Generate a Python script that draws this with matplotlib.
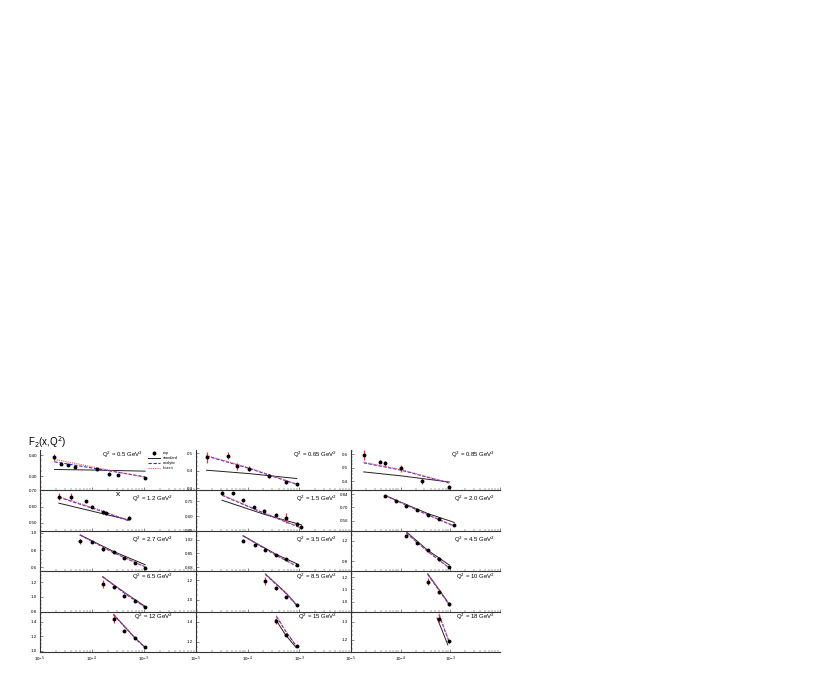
import numpy as np
import matplotlib
matplotlib.use('Agg')
import matplotlib.pyplot as plt
from matplotlib.ticker import LogLocator, NullFormatter, FixedLocator, AutoMinorLocator

plt.rcParams['font.family'] = ['Liberation Sans', 'DejaVu Sans']

# panels in row order, Q^2 in GeV^2
q2_values = ['0.5', '0.65', '0.85', '1.2', '1.5', '2.0', '2.7', '3.5', '4.5',
             '6.5', '8.5', '10', '12', '15', '18']

# experimental points
x_data = [
    [1.88e-5, 2.5e-5, 3.4e-5, 4.7e-5, 1.23e-4, 2.1e-4, 3.1e-4, 1.05e-3],
    [1.6e-5, 4.1e-5, 6.3e-5, 1.05e-4, 2.6e-4, 5.4e-4, 8.9e-4],
    [1.8e-5, 3.8e-5, 4.8e-5, 1.02e-4, 2.7e-4, 9.5e-4],
    [2.3e-5, 3.9e-5, 7.6e-5, 9.8e-5, 1.6e-4, 1.9e-4, 5.1e-4],
    [3.2e-5, 5.1e-5, 8.1e-5, 1.35e-4, 2.1e-4, 3.5e-4, 5.4e-4, 8.9e-4, 1.1e-3],
    [4.8e-5, 8.1e-5, 1.3e-4, 2.1e-4, 3.5e-4, 6.0e-4, 1.2e-3],
    [5.9e-5, 9.8e-5, 1.6e-4, 2.6e-4, 4.2e-4, 6.8e-4, 1.05e-3],
    [8.1e-5, 1.4e-4, 2.2e-4, 3.6e-4, 5.5e-4, 8.9e-4],
    [1.3e-4, 2.1e-4, 3.5e-4, 5.8e-4, 9.5e-4],
    [1.6e-4, 2.6e-4, 4.2e-4, 6.8e-4, 1.05e-3],
    [2.2e-4, 3.5e-4, 5.5e-4, 8.9e-4],
    [3.5e-4, 5.9e-4, 9.5e-4],
    [2.6e-4, 4.2e-4, 6.8e-4, 1.05e-3],
    [3.6e-4, 5.5e-4, 8.9e-4],
    [5.9e-4, 9.5e-4],
]
f2_data = [
    [0.389, 0.360, 0.352, 0.344, 0.332, 0.309, 0.305, 0.292],
    [0.475, 0.484, 0.426, 0.412, 0.369, 0.336, 0.323],
    [0.593, 0.543, 0.531, 0.494, 0.402, 0.358],
    [0.662, 0.662, 0.633, 0.600, 0.564, 0.558, 0.527],
    [0.837, 0.833, 0.760, 0.687, 0.653, 0.613, 0.577, 0.520, 0.493],
    [0.822, 0.765, 0.714, 0.675, 0.622, 0.572, 0.511],
    [0.901, 0.897, 0.806, 0.775, 0.711, 0.649, 0.596],
    [1.008, 0.955, 0.898, 0.834, 0.785, 0.704],
    [1.295, 1.156, 1.010, 0.845, 0.693],
    [1.170, 1.137, 1.017, 0.937, 0.862],
    [1.190, 1.117, 1.027, 0.950],
    [1.162, 1.082, 0.984],
    [1.437, 1.276, 1.175, 1.060],
    [1.410, 1.270, 1.163],
    [1.315, 1.191],
]
f2_err = [
    [0.016, 0.008, 0.006, 0.008, 0.006, 0.006, 0.005, 0.004],
    [0.033, 0.020, 0.020, 0.015, 0.010, 0.012, 0.008],
    [0.035, 0.012, 0.020, 0.025, 0.020, 0.012],
    [0.023, 0.020, 0.010, 0.010, 0.010, 0.008, 0.012],
    [0.020, 0.015, 0.015, 0.015, 0.020, 0.015, 0.050, 0.020, 0.020],
    [0.010, 0.010, 0.010, 0.010, 0.010, 0.010, 0.010],
    [0.030, 0.012, 0.012, 0.010, 0.010, 0.010, 0.010],
    [0.020, 0.015, 0.012, 0.012, 0.012, 0.010],
    [0.030, 0.030, 0.030, 0.030, 0.030],
    [0.055, 0.020, 0.015, 0.012, 0.010],
    [0.040, 0.015, 0.012, 0.010],
    [0.030, 0.020, 0.015],
    [0.060, 0.020, 0.015, 0.012],
    [0.030, 0.015, 0.010],
    [0.020, 0.010],
]

# model curves
x_curve = [
    [1.9e-5, 1.2e-4, 1.05e-3],
    [1.6e-5, 1.05e-4, 8.9e-4],
    [1.8e-5, 1.02e-4, 9.5e-4],
    [2.3e-5, 1.6e-4, 5.1e-4],
    [3.2e-5, 2.1e-4, 1.1e-3],
    [4.8e-5, 3.5e-4, 1.2e-3],
    [5.9e-5, 2.6e-4, 1.05e-3],
    [8.1e-5, 3.6e-4, 8.9e-4],
    [1.3e-4, 3.5e-4, 9.5e-4],
    [1.6e-4, 4.2e-4, 1.05e-3],
    [2.2e-4, 5.5e-4, 8.9e-4],
    [3.5e-4, 5.9e-4, 9.5e-4],
    [2.6e-4, 6.8e-4, 1.05e-3],
    [3.6e-4, 5.5e-4, 8.9e-4],
    [5.9e-4, 7.5e-4, 9.5e-4],
]
x_curve_std = [
    [1.9e-5, 1.2e-4, 1.05e-3],
    [1.6e-5, 1.05e-4, 8.9e-4],
    [1.8e-5, 1.02e-4, 9.5e-4],
    [2.3e-5, 1.6e-4, 5.1e-4],
    [3.2e-5, 2.1e-4, 1.1e-3],
    [4.8e-5, 3.5e-4, 1.2e-3],
    [5.9e-5, 2.6e-4, 1.05e-3],
    [8.1e-5, 3.6e-4, 8.9e-4],
    [1.3e-4, 3.5e-4, 9.5e-4],
    [1.6e-4, 4.2e-4, 1.05e-3],
    [2.2e-4, 5.5e-4, 8.9e-4],
    [3.5e-4, 5.9e-4, 9.5e-4],
    [2.6e-4, 6.8e-4, 1.05e-3],
    [3.5e-4, 5.4e-4, 8.7e-4],
    [5.4e-4, 7.0e-4, 8.9e-4],
]
f2_standard = [
    [0.332, 0.329, 0.324],
    [0.403, 0.384, 0.356],
    [0.469, 0.440, 0.395],
    [0.621, 0.556, 0.517],
    [0.760, 0.617, 0.510],
    [0.829, 0.635, 0.540],
    [0.974, 0.783, 0.630],
    [1.068, 0.837, 0.724],
    [1.370, 1.015, 0.730],
    [1.271, 1.060, 0.871],
    [1.262, 1.070, 0.948],
    [1.226, 1.100, 0.980],
    [1.497, 1.175, 1.050],
    [1.420, 1.270, 1.143],
    [1.321, 1.245, 1.172],
]
f2_analytic = [
    [0.368, 0.336, 0.297],
    [0.483, 0.414, 0.323],
    [0.536, 0.482, 0.387],
    [0.658, 0.569, 0.512],
    [0.810, 0.627, 0.477],
    [0.829, 0.621, 0.500],
    [0.974, 0.768, 0.604],
    [1.068, 0.825, 0.692],
    [1.346, 0.990, 0.674],
    [1.271, 1.050, 0.857],
    [1.257, 1.065, 0.943],
    [1.222, 1.095, 0.976],
    [1.497, 1.170, 1.045],
    [1.453, 1.300, 1.153],
    [1.339, 1.262, 1.188],
]
f2_frozen = [
    [0.380, 0.341, 0.294],
    [0.486, 0.417, 0.325],
    [0.540, 0.486, 0.389],
    [0.662, 0.573, 0.514],
    [0.815, 0.631, 0.480],
    [0.833, 0.625, 0.503],
    [0.978, 0.771, 0.607],
    [1.072, 0.829, 0.695],
    [1.352, 0.995, 0.678],
    [1.276, 1.055, 0.860],
    [1.262, 1.070, 0.946],
    [1.227, 1.099, 0.979],
    [1.503, 1.175, 1.048],
    [1.460, 1.305, 1.156],
    [1.345, 1.266, 1.191],
]

# y axis of each panel
y_limits = [
    (0.233, 0.424), (0.289, 0.517), (0.333, 0.630),
    (0.450, 0.700), (0.450, 0.860), (0.450, 0.883),
    (0.554, 1.023), (0.631, 1.129), (0.610, 1.390),
    (0.800, 1.347), (0.880, 1.290), (0.920, 1.248),
    (0.986, 1.538), (1.100, 1.500), (1.133, 1.356),
]
y_ticks = [
    [0.30, 0.40], [0.3, 0.4, 0.5], [0.4, 0.5, 0.6],
    [0.50, 0.60, 0.70], [0.45, 0.60, 0.75], [0.56, 0.70, 0.84],
    [0.6, 0.8, 1.0], [0.68, 0.85, 1.02], [0.8, 1.2],
    [0.8, 1.0, 1.2], [1.0, 1.2], [1.0, 1.1, 1.2],
    [1.0, 1.2, 1.4], [1.2, 1.4], [1.2, 1.3],
]
y_fmt = ['%.2f', '%.1f', '%.1f', '%.2f', '%.2f', '%.2f', '%.1f', '%.2f', '%.1f',
         '%.1f', '%.1f', '%.1f', '%.1f', '%.1f', '%.1f']

fig = plt.figure(figsize=(8.3, 6.78), dpi=100)
gs = fig.add_gridspec(5, 3, left=40/830, right=500/830, bottom=1-652/678, top=1-450/678,
                      hspace=0, wspace=0, width_ratios=[156, 155, 149])

label_x = [0.66, 0.91, 0.966]
label_y = [0.88, 0.8, 0.78, 0.86, 0.86]
axc = '#333333'

for i in range(15):
    r, c = divmod(i, 3)
    ax = fig.add_subplot(gs[r, c])
    ax.patch.set_alpha(0)
    ax.set_xscale('log')
    ax.set_xlim(1e-5, 1e-2)
    ax.set_ylim(*y_limits[i])

    ax.plot(x_curve_std[i], f2_standard[i], color='#222222', lw=0.7, label='standard')
    ax.plot(x_curve[i], f2_analytic[i], color='#2a2aff', lw=0.8, ls=(0, (3, 1.5)), label='analytic')
    ax.plot(x_curve[i], f2_frozen[i], color='#ff4d4d', lw=0.8, ls=(0, (1, 1)), label='frozen')
    ax.errorbar(x_data[i], f2_data[i], yerr=f2_err[i], fmt='o', color='black', ms=1.8,
                ecolor='#ff3030', elinewidth=0.9, capsize=0, label='exp', zorder=5)

    for s in ['top', 'right']:
        ax.spines[s].set_visible(False)
    for s in ['left', 'bottom']:
        ax.spines[s].set_color(axc)
        ax.spines[s].set_linewidth(0.8)
        ax.spines[s].set_zorder(6)

    ax.yaxis.set_major_locator(FixedLocator(y_ticks[i]))
    ax.set_yticklabels([y_fmt[i] % v for v in y_ticks[i]])
    ax.yaxis.set_minor_locator(AutoMinorLocator(4))
    ax.tick_params(axis='y', which='both', direction='in', labelsize=3.2, color=axc, pad=2)
    ax.tick_params(axis='y', which='major', length=2.5, width=0.4)
    ax.tick_params(axis='y', which='minor', length=1.2, width=0.3)

    ax.xaxis.set_major_locator(LogLocator(base=10, numticks=10))
    ax.xaxis.set_minor_locator(LogLocator(base=10, subs=np.arange(2, 10), numticks=10))
    ax.xaxis.set_minor_formatter(NullFormatter())
    ax.tick_params(axis='x', which='both', direction='in', color=axc, labelsize=3.2, pad=2)
    ax.tick_params(axis='x', which='major', length=2.5, width=0.4)
    ax.tick_params(axis='x', which='minor', length=1.3, width=0.3)
    if r < 4:
        ax.tick_params(axis='x', labelbottom=False)
    else:
        ax.set_xticks([1e-5, 1e-4, 1e-3])
        ax.set_xticklabels([r'10$^{-5}$', r'10$^{-4}$', r'10$^{-3}$'])

    lx = label_x[c] if c > 0 else (0.66 if r == 0 else 0.85)
    ax.text(lx, label_y[r], r'Q$^2$ = ' + q2_values[i] + r' GeV$^2$', transform=ax.transAxes,
            ha='right', va='center', fontsize=4.3)

    if i == 0:
        h, l = ax.get_legend_handles_labels()
        order = [3, 0, 1, 2]
        ax.legend([h[k] for k in order], [l[k] for k in order], loc='upper right',
                  bbox_to_anchor=(0.9, 1.04), fontsize=2.8, frameon=False,
                  handlelength=3.0, labelspacing=0.25, borderpad=0.2)

fig.text(28/830, 1-442/678, r'F$_2$(x,Q$^2$)', fontsize=7, va='center', ha='left')
fig.text(118/830, 1-494/678, 'x', fontsize=6, va='center', ha='center')

fig.savefig('out.png', dpi=100)
